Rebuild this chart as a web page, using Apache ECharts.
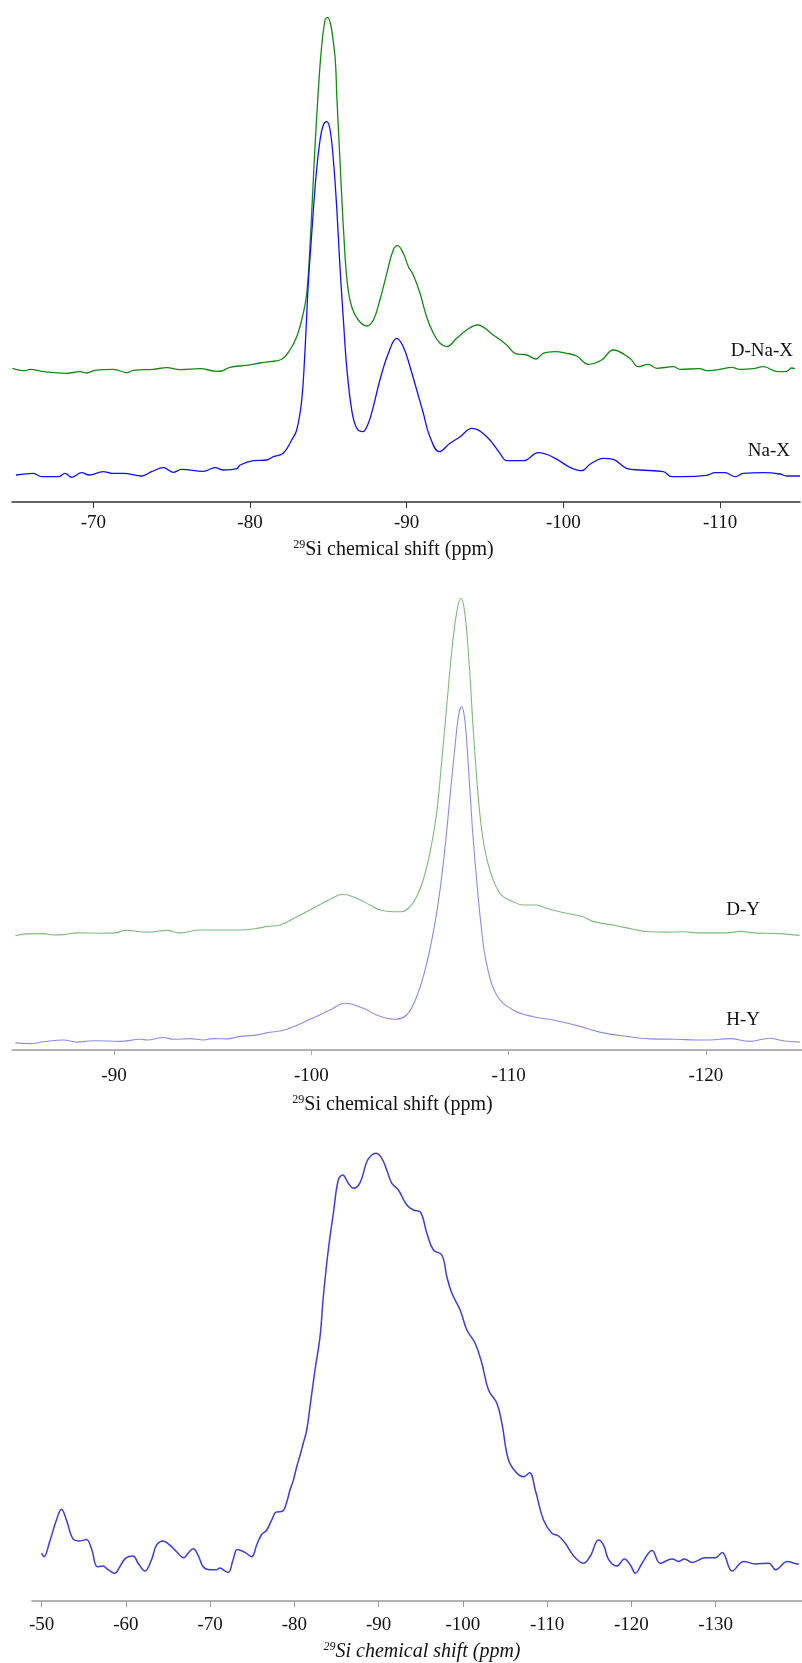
<!DOCTYPE html>
<html>
<head>
<meta charset="utf-8">
<title>29Si NMR spectra</title>
<script src="https://cdn.jsdelivr.net/npm/echarts@6/dist/echarts.min.js"></script>
<style>
  html, body { margin: 0; padding: 0; background: #fff; }
  #chart { width: 802px; height: 1663px; }
</style>
</head>
<body>
<div id="chart"></div>
<script>
// --- 数据：化学位移 (ppm) 与信号强度 (任意单位) ---

// 图 1：Na-X / D-Na-X
const dNaXShift = [-64.83,-65.64,-65.96,-66.82,-68.30,-69.15,-69.58,-70.11,-71.28,-72.14,-72.56,-73.83,-74.69,-75.53,-76.81,-77.88,-78.20,-78.72,-79.79,-80.64,-81.28,-82.02,-82.55,-82.98,-83.30,-83.62,-83.87,-84.08,-84.32,-84.55,-84.79,-84.94,-85.38,-85.55,-85.76,-85.98,-86.21,-86.49,-86.91,-87.45,-87.87,-88.29,-88.73,-89.14,-89.42,-89.78,-90.11,-90.42,-90.85,-91.27,-91.70,-92.13,-92.55,-93.19,-93.83,-94.51,-95.52,-96.38,-96.91,-97.66,-98.25,-98.71,-99.46,-100.21,-100.85,-101.59,-102.44,-103.18,-104.24,-104.78,-105.41,-105.96,-107.01,-107.45,-108.71,-109.14,-109.99,-110.74,-111.27,-112.12,-112.75,-113.71,-114.25,-114.56,-114.77];
const dNaXIntensity = [133.7,131.3,132.7,130.3,128.7,130.3,129,131.7,132.7,129.3,131.7,132.7,134.3,132.3,133.3,130.7,131,134.7,136.7,139,140.3,142.7,152,165.3,182,208.7,268.7,335.3,402,452,482,484.7,452,402,335.3,268.7,218.7,195.3,182,176,182,202,228.7,252,256.3,248.7,235.3,227,208.7,185.3,168.7,158.7,155.3,163.7,172,177,167,157,148.7,147,143,148.7,150.3,148.7,146,137.7,142,152,143.7,135.3,137.7,133.7,135.3,132.7,133.3,131.3,132.7,134.7,132.7,133.3,135.3,130.3,130.7,134,133.3];

const naXShift = [-65.06,-66.17,-66.70,-67.77,-68.19,-68.62,-69.26,-69.74,-70.63,-71.18,-71.91,-73.09,-73.72,-74.47,-75.10,-75.64,-77.02,-77.77,-78.30,-79.16,-79.37,-80.21,-81.07,-81.49,-82.12,-82.66,-82.98,-83.30,-83.51,-83.72,-83.94,-84.21,-84.47,-84.68,-84.90,-85.11,-85.32,-85.53,-85.74,-85.96,-86.17,-86.49,-86.81,-87.19,-87.55,-87.87,-88.29,-88.83,-89.36,-89.78,-90.21,-90.64,-91.06,-91.48,-92.08,-92.76,-93.41,-94.15,-95.11,-95.95,-96.38,-97.44,-98.40,-99.36,-100.42,-101.17,-101.70,-102.54,-103.18,-104.03,-104.89,-106.38,-106.91,-107.66,-109.14,-109.68,-110.31,-110.98,-111.48,-112.75,-113.82,-114.25,-115.10];
const naXIntensity = [27,28.7,25.3,25.3,28.7,24.7,29.3,27,30.3,28.7,28.7,26,30.3,34.3,29.7,32.7,30.7,34.3,32,33.3,37,41.3,42,45.3,48.7,62,72,102,152,218.7,268.7,325.3,362,377,380.3,372,342,295.3,235.3,182,135.3,92,73.7,70.3,78.7,95.3,122,148.7,163.7,155.3,135.3,112,88.7,65.3,50.3,58.7,65.3,73.7,65.3,48.7,41.3,41.3,49.3,44.7,34.7,31.3,37.7,43.7,42.7,33.7,32,30.3,25.3,25.3,26.7,29.3,29.3,25.3,28.7,29.3,28,26,26];

const xTicks1 = [-70, -80, -90, -100, -110];

// 图 2：H-Y / D-Y
const dYShift = [-85.00,-85.59,-86.43,-86.94,-87.45,-88.12,-89.30,-90.06,-90.57,-91.67,-92.68,-93.35,-94.37,-96.39,-97.41,-97.74,-98.42,-99.26,-100.10,-100.95,-101.62,-102.30,-102.97,-103.48,-104.15,-104.58,-105.00,-105.34,-105.67,-106.01,-106.35,-106.60,-106.86,-107.11,-107.36,-107.58,-107.78,-108.00,-108.21,-108.46,-108.71,-109.05,-109.56,-110.23,-110.74,-111.42,-111.92,-112.59,-113.77,-114.28,-115.47,-116.31,-117.15,-118.00,-118.84,-119.68,-121.03,-121.79,-122.38,-123.73,-124.75];
const dYIntensity = [114.3,116.1,116.4,115,115.4,117.1,116.8,117.1,119.6,117.9,119.6,117.1,120,120,122.1,123.6,125,133.3,141.7,150.7,155.7,151.7,145,140,138.3,138.3,143.3,153.3,170,196.7,236.7,286.7,343.3,396.7,436.7,451.7,436.7,386.7,320,253.3,210,180,156.7,148.3,145,145,141.7,138.3,133.2,128.6,124.3,120.7,118.2,117.9,118.2,117.1,117.1,118.6,117.1,116.4,114.6];

const hYShift = [-85.00,-85.76,-86.43,-87.45,-88.12,-88.96,-90.32,-91.33,-91.67,-92.51,-93.02,-93.86,-94.53,-95.04,-95.72,-96.39,-97.07,-97.74,-98.76,-99.94,-100.95,-101.71,-102.64,-103.31,-104.24,-104.83,-105.34,-105.85,-106.35,-106.69,-107.03,-107.28,-107.48,-107.62,-107.78,-107.95,-108.17,-108.38,-108.63,-108.88,-109.39,-110.23,-111.24,-112.26,-113.61,-114.62,-115.97,-117.15,-118.50,-119.52,-120.19,-121.20,-122.22,-123.23,-123.90,-124.75];
const hYIntensity = [7.1,6.4,8.2,10,7.9,9.3,8.6,10.7,10,12.5,10.7,11.4,10,11.4,11.1,13.6,14.6,17.1,20.7,30.7,40,46.7,41.7,35,30.7,35,53.3,86.7,136.7,186.7,253.3,303.3,336.7,343.3,330,286.7,220,170,120,86.7,55,40,33.3,30,23.6,17.9,13.6,11.1,10.7,10,10,11.4,8.6,11.8,9.3,7.9];

const xTicks2 = [-90, -100, -110, -120];

// 图 3：单条宽谱
const broadShift = [-50.00,-50.27,-50.95,-51.75,-52.34,-52.94,-53.72,-54.52,-55.31,-55.91,-56.62,-57.28,-57.88,-58.67,-59.27,-59.98,-60.85,-61.44,-62.24,-63.04,-63.63,-64.41,-65.21,-66.01,-66.87,-67.39,-67.98,-68.57,-69.17,-69.96,-70.76,-71.15,-71.63,-72.14,-72.73,-73.21,-74.12,-74.92,-75.51,-76.11,-76.70,-77.30,-77.81,-78.60,-79.08,-79.47,-79.86,-80.27,-80.66,-81.05,-81.46,-81.85,-82.44,-83.04,-83.43,-84.02,-84.62,-85.21,-85.73,-86.40,-86.99,-87.79,-88.59,-89.18,-89.69,-90.37,-90.96,-91.56,-92.34,-93.34,-94.12,-94.92,-95.72,-96.50,-97.50,-98.09,-98.69,-99.67,-100.47,-101.45,-102.25,-103.04,-104.03,-104.63,-105.41,-106.41,-107.20,-107.91,-108.59,-109.57,-110.57,-111.35,-112.15,-112.66,-113.34,-114.33,-115.12,-116.11,-116.70,-117.30,-118.29,-119.16,-119.87,-120.47,-121.27,-122.45,-123.44,-124.83,-125.62,-126.29,-127.21,-128.79,-129.98,-130.77,-131.96,-133.34,-134.73,-136.31,-137.11,-138.50,-139.28,-139.88];
const broadIntensity = [47.9,44.3,59.4,80.9,91.7,80.9,62.2,60.1,61.5,52.2,34.2,34.9,31.3,27.7,34.2,42.8,45,37.8,29.9,41.4,55.8,60.1,55.8,49.3,43.2,47.9,52.2,45.7,34.2,31.3,31.3,33.1,30.6,28.5,41.4,51.4,48.6,44.3,55.8,66.5,70.8,80.9,88.8,89.9,98.8,111,120.4,134.3,145.5,157.7,171,194.3,231,264.3,304.3,351,387.7,421,426,417.7,412.7,418.3,439.3,446,447.7,442.7,431,417.7,411,396,391,389.3,367.7,351,346,324.3,307.7,291,271,257.7,237.7,211,197.7,177.7,141,127.7,124.3,128.3,111,81,67.7,65,57.7,51,43.2,37.8,45,61.1,55.8,41.4,34.9,42.1,36,27.8,37.8,50.4,37.8,42.1,39.6,42.1,38.5,43.2,43.2,48.6,29.9,39.6,37.1,37.8,31.3,39.6,37.8,36.7];

const xTicks3 = [-50, -60, -70, -80, -90, -100, -110, -120, -130];

// --- 工具函数 ---
const pairs = (xs, ys) => xs.map((x, i) => [x, ys[i]]);

const SERIF = 'Liberation Serif';
const AXIS_TITLE = '{sup|29}{t|Si chemical shift (ppm)}';

// 横轴通用配置
const makeXAxis = (gridIndex, min, max, ticks, opt) => ({
  type: 'value',
  gridIndex,
  min,
  max,
  inverse: true,
  splitLine: { show: false },
  axisLine: { show: true, onZero: false, lineStyle: { color: opt.lineColor, width: 1.5 } },
  axisTick: {
    show: true,
    customValues: ticks,
    length: opt.tickLen,
    lineStyle: { color: opt.tickColor, width: 1 }
  },
  axisLabel: {
    customValues: ticks,
    margin: opt.labelMargin,
    fontFamily: SERIF,
    fontSize: 19,
    color: '#111'
  },
  name: AXIS_TITLE,
  nameLocation: 'middle',
  nameGap: opt.nameGap,
  nameTextStyle: {
    fontFamily: SERIF,
    padding: opt.namePadding,
    rich: {
      sup: { fontFamily: SERIF, fontSize: 12, fontStyle: opt.italic ? 'italic' : 'normal', color: '#111', verticalAlign: 'top', lineHeight: 22 },
      t: { fontFamily: SERIF, fontSize: 20, fontStyle: opt.italic ? 'italic' : 'normal', color: '#111', lineHeight: 22 }
    }
  }
});

const makeYAxis = (gridIndex, max) => ({
  type: 'value', gridIndex, min: 0, max, show: false
});

const makeLine = (name, xIdx, data, color, width) => ({
  name,
  type: 'line',
  xAxisIndex: xIdx,
  yAxisIndex: xIdx,
  data,
  symbol: 'none',
  smooth: 0.4,
  clip: false,
  lineStyle: { color, width },
  silent: true
});

const label = (text, x, y) => ({
  type: 'text',
  x, y,
  style: { text, fill: '#111', fontFamily: SERIF, fontSize: 19, align: 'right', verticalAlign: 'middle' }
});

// --- 配置项 ---
const chart = echarts.init(document.getElementById('chart'));

const option = {
  animation: false,
  backgroundColor: '#fff',
  textStyle: { fontFamily: SERIF },
  grid: [
    { left: 12, top: 2, width: 788, height: 500 },
    { left: 12, top: 590, width: 790, height: 460 },
    { left: 32, top: 1130, width: 770, height: 471 }
  ],
  xAxis: [
    makeXAxis(0, -115.1, -64.81, xTicks1, { lineColor: '#333', tickColor: '#333', tickLen: 6, labelMargin: 12, nameGap: 37, namePadding: [0, 25, 0, 0] }),
    makeXAxis(1, -124.87, -84.83, xTicks2, { lineColor: '#9a9a9a', tickColor: '#aaa', tickLen: 5, labelMargin: 17, nameGap: 44, namePadding: [0, 29, 0, 0] }),
    makeXAxis(2, -140.25, -48.85, xTicks3, { lineColor: '#999', tickColor: '#999', tickLen: 6, labelMargin: 15, nameGap: 40, namePadding: [0, 0, 0, 10], italic: true })
  ],
  yAxis: [makeYAxis(0, 500), makeYAxis(1, 460), makeYAxis(2, 471)],
  series: [
    makeLine('D-Na-X', 0, pairs(dNaXShift, dNaXIntensity), '#138a13', 1.3),
    makeLine('Na-X', 0, pairs(naXShift, naXIntensity), '#1010ff', 1.3),
    makeLine('D-Y', 1, pairs(dYShift, dYIntensity), '#7fba7f', 1.1),
    makeLine('H-Y', 1, pairs(hYShift, hYIntensity), '#8c8ce8', 1.1),
    makeLine('broad', 2, pairs(broadShift, broadIntensity), '#3c3ce0', 1.5)
  ],
  graphic: [
    label('D-Na-X', 793, 351),
    label('Na-X', 790, 451),
    label('D-Y', 760, 910),
    label('H-Y', 760, 1020)
  ]
};

chart.setOption(option);
</script>
</body>
</html>
